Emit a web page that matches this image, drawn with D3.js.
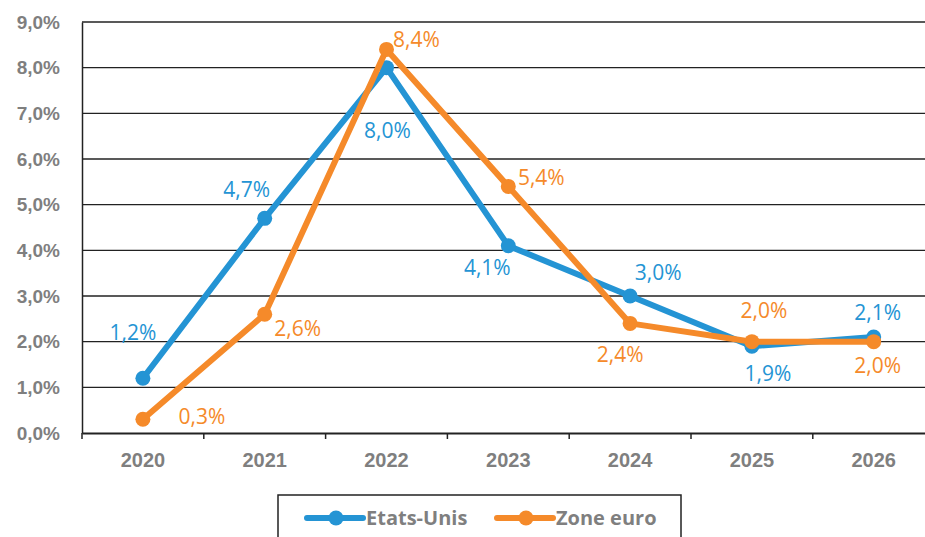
<!DOCTYPE html>
<html>
<head>
<meta charset="utf-8">
<script src="https://cdn.jsdelivr.net/npm/d3@7"></script>
<style>
  body { margin: 0; background: #fff; }
  svg { font-family: "Open Sans", Calibri, sans-serif; }
</style>
</head>
<body>
<div id="chart"></div>
<script>
const years = ["2020", "2021", "2022", "2023", "2024", "2025", "2026"];
const etatsUnis = [1.2, 4.7, 8.0, 4.1, 3.0, 1.9, 2.1];
const zoneEuro = [0.3, 2.6, 8.4, 5.4, 2.4, 2.0, 2.0];
const yTicks = [0, 1, 2, 3, 4, 5, 6, 7, 8, 9];
const seriesNames = ["Etats-Unis", "Zone euro"];

const width = 925, height = 537;
const margin = { left: 82, top: 22, bottom: 104 };
const blue = "#2494d4", orange = "#f58a2a", grey = "#7f7f7f";

const svg = d3.select("#chart").append("svg")
    .attr("width", width)
    .attr("height", height);

const x = d3.scaleBand()
    .domain(years)
    .range([margin.left, margin.left + 7 * 121.8]);

const y = d3.scaleLinear()
    .domain([0, 9])
    .range([height - margin.bottom, margin.top]);

const fmt = v => d3.format(".1f")(v).replace(".", ",") + "%";

// gridlines
svg.append("g").selectAll("line")
    .data(yTicks.filter(d => d > 0))
    .enter().append("line")
    .attr("x1", margin.left).attr("x2", width)
    .attr("y1", d => y(d)).attr("y2", d => y(d))
    .attr("stroke", "#222").attr("stroke-width", 1.3);

// y axis
function yAxis(g) {
    g.attr("transform", `translate(${margin.left},0)`)
        .call(d3.axisLeft(y).tickValues(yTicks).tickFormat(fmt).tickSize(0).tickPadding(22));
    g.select(".domain").attr("stroke", "#222").attr("stroke-width", 1.5);
    g.selectAll("text").attr("fill", grey).attr("font-size", "19px").attr("font-weight", "bold");
}
svg.append("g").call(yAxis);

// x axis
function xAxis(g) {
    g.attr("transform", `translate(0,${y(0)})`)
        .call(d3.axisBottom(x).tickSize(0).tickPadding(20));
    g.select(".domain").attr("stroke", "#222").attr("stroke-width", 2);
    g.selectAll("text").attr("fill", grey).attr("font-size", "20px").attr("font-weight", "bold");
}
svg.append("g").call(xAxis);

// tick marks between categories
svg.append("g").selectAll("line")
    .data(years)
    .enter().append("line")
    .attr("x1", d => x(d)).attr("x2", d => x(d))
    .attr("y1", y(0)).attr("y2", y(0) + 6)
    .attr("stroke", "#222").attr("stroke-width", 1.5);

const cx = i => x(years[i]) + x.bandwidth() / 2;

function drawSeries(vals, color) {
    svg.append("path")
        .datum(vals)
        .attr("fill", "none")
        .attr("stroke", color)
        .attr("stroke-width", 6)
        .attr("stroke-linejoin", "round")
        .attr("d", d3.line().x((d, i) => cx(i)).y(d => y(d)));
    svg.append("g").selectAll("circle")
        .data(vals)
        .enter().append("circle")
        .attr("cx", (d, i) => cx(i))
        .attr("cy", d => y(d))
        .attr("r", 7.5)
        .attr("fill", color);
}
drawSeries(etatsUnis, blue);
drawSeries(zoneEuro, orange);

// data labels (offsets from point)
const blueOff = [[-10, -46], [-18, -29], [1, 63], [-21, 22], [28, -23], [16, 27], [4, -24]];
const orangeOff = [[59, -3], [33, 14], [30, -10], [33, -9], [-10, 31], [12, -31], [4, 24]];

function drawLabels(vals, offs, color) {
    svg.append("g").selectAll("text")
        .data(vals)
        .enter().append("text")
        .attr("x", (d, i) => cx(i) + offs[i][0])
        .attr("y", (d, i) => y(d) + offs[i][1])
        .attr("dy", "0.35em")
        .attr("text-anchor", "middle")
        .attr("fill", color)
        .attr("font-size", "21px")
        .text(fmt);
}
drawLabels(etatsUnis, blueOff, blue);
drawLabels(zoneEuro, orangeOff, orange);

// legend
const lg = svg.append("g");
lg.append("rect")
    .attr("x", 278).attr("y", 495)
    .attr("width", 403).attr("height", 60)
    .attr("fill", "none").attr("stroke", "#222").attr("stroke-width", 1.5);

const legendItems = [
    { name: seriesNames[0], color: blue, x0: 307 },
    { name: seriesNames[1], color: orange, x0: 497 }
];
legendItems.forEach(it => {
    lg.append("line")
        .attr("x1", it.x0).attr("x2", it.x0 + 56)
        .attr("y1", 518).attr("y2", 518)
        .attr("stroke", it.color).attr("stroke-width", 6).attr("stroke-linecap", "round");
    lg.append("circle")
        .attr("cx", it.x0 + 29).attr("cy", 518).attr("r", 7.5).attr("fill", it.color);
    lg.append("text")
        .attr("x", it.x0 + 59).attr("y", 518).attr("dy", "0.35em")
        .attr("fill", grey).attr("font-size", "20px").attr("font-weight", "bold")
        .text(it.name);
});
</script>
</body>
</html>
